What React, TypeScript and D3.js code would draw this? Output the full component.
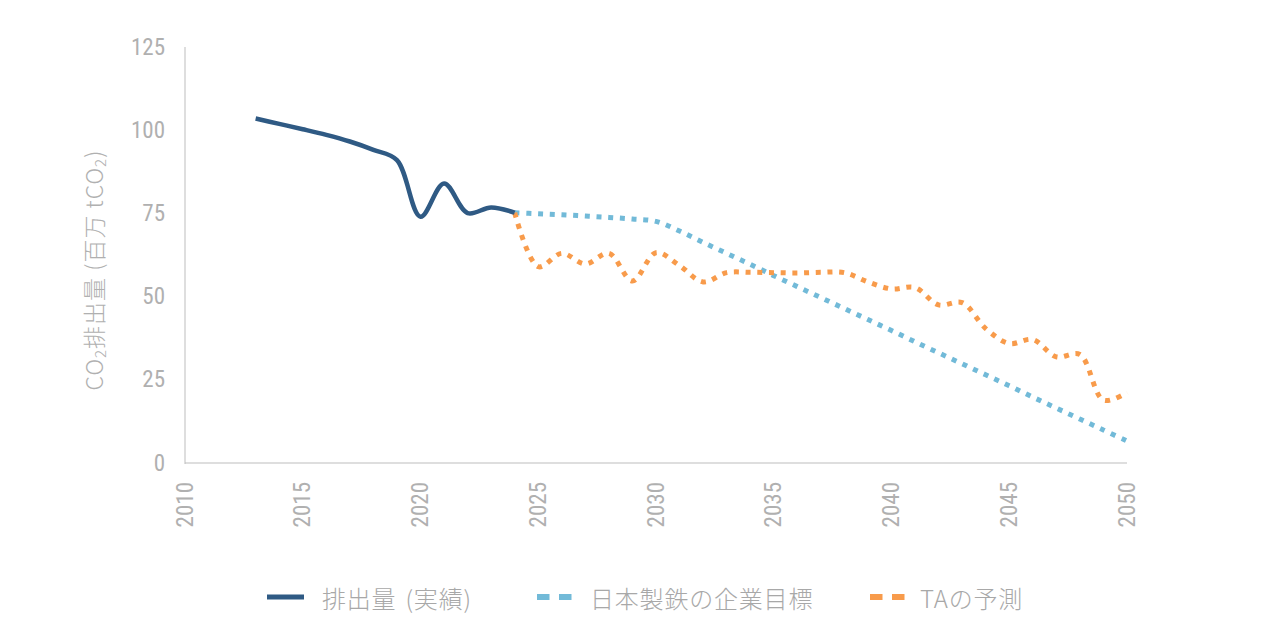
import React from 'react';
import * as d3 from 'd3';

// 実績 (2013-2024), 目標 / 予測 (2024-2050)
const actualYears = [2013, 2014, 2015, 2016, 2017, 2018, 2019, 2020, 2021, 2022, 2023, 2024];
const actualValues = [103.5, 101.9, 100.3, 98.6, 96.6, 94.1, 91.0, 74.0, 84.0, 75.1, 76.8, 75.2];

const forecastYears = d3.range(2024, 2051);
const targetValues = [
    75.2, 74.9, 74.6, 74.2, 73.8, 73.3, 72.6, 69.7, 66.3, 63.0,
    59.7, 56.3, 53.0, 49.7, 46.4, 43.1, 39.8, 36.4, 33.1, 29.8,
    26.5, 23.2, 19.8, 16.5, 13.2, 9.9, 6.6,
];
const taValues = [
    75.2, 59.0, 63.0, 59.8, 63.0, 54.7, 63.2, 59.3, 54.4, 57.2,
    57.3, 57.2, 57.1, 57.3, 57.2, 54.4, 52.3, 52.7, 47.5, 48.2,
    40.4, 35.9, 37.1, 31.9, 32.6, 18.9, 21.2,
];

const xTicks = d3.range(2010, 2051, 5);
const yTicks = [0, 25, 50, 75, 100, 125];

const legendItems = [
    { label: '排出量 (実績)', color: '#2f5a84', dashed: false },
    { label: '日本製鉄の企業目標', color: '#72bad8', dashed: true },
    { label: 'TAの予測', color: '#f89b4b', dashed: true },
];

const W = 1261;
const H = 630;
const plot = { left: 185, right: 1127, top: 47, bottom: 463 };
const grey = '#a8a8a8';
const tickGrey = '#b0b0b0';
const numFont = "'Liberation Sans Narrow', 'Roboto Condensed', Roboto, sans-serif";
const jpFont = "'Liberation Sans Narrow', 'Noto Sans CJK JP', sans-serif";

export default function App() {
    const x = d3.scaleLinear().domain([2010, 2050]).range([plot.left, plot.right]);
    const y = d3.scaleLinear().domain([0, 125]).range([plot.bottom, plot.top]);

    const line = d3.line<[number, number]>()
        .x(d => x(d[0]))
        .y(d => y(d[1]))
        .curve(d3.curveCatmullRom.alpha(0.5));

    const actualPath = line(actualYears.map((yr, i) => [yr, actualValues[i]]));
    const targetPath = line(forecastYears.map((yr, i) => [yr, targetValues[i]]));
    const taPath = line(forecastYears.map((yr, i) => [yr, taValues[i]]));

    // legend sample boxes start at these x positions
    const legendX = [267, 537, 870];
    const legendTextX = [322, 590, 920];
    const legendY = 597;

    return (
        <div style={{ position: 'absolute', left: 0, top: 0 }}>
            <svg width={W} height={H} style={{ display: 'block', background: '#fff' }}>
                {/* axes */}
                <line x1={plot.left} x2={plot.left} y1={plot.top} y2={plot.bottom + 1} stroke="#bdbdbd" strokeWidth={1} />
                <line x1={plot.left} x2={plot.right} y1={plot.bottom} y2={plot.bottom} stroke="#bdbdbd" strokeWidth={1} />

                {yTicks.map(t => (
                    <text key={t} x={165} y={y(t)} textAnchor="end" dominantBaseline="central"
                        fontFamily={numFont} fontSize={23} fill={tickGrey}>{t}</text>
                ))}

                {xTicks.map(t => (
                    <text key={t} transform={`translate(${x(t)},482) rotate(-90)`} textAnchor="end"
                        dominantBaseline="central" fontFamily={numFont} fontSize={23} fill={tickGrey}>{t}</text>
                ))}

                <text transform="translate(93,270) rotate(-90)" textAnchor="middle" dominantBaseline="central"
                    fontFamily={jpFont} fontSize={23} fill={tickGrey} fontWeight={300} letterSpacing={1}>
                    CO<tspan fontSize={15} dy={6}>2</tspan>
                    <tspan dy={-6}>排出量 (百万 tCO</tspan>
                    <tspan fontSize={15} dy={6}>2</tspan>
                    <tspan dy={-6}>)</tspan>
                </text>

                {/* series */}
                <path d={targetPath ?? ''} fill="none" stroke={legendItems[1].color} strokeWidth={5} strokeDasharray="5 6.7" />
                <path d={taPath ?? ''} fill="none" stroke={legendItems[2].color} strokeWidth={5} strokeDasharray="5 6.7" />
                <path d={actualPath ?? ''} fill="none" stroke={legendItems[0].color} strokeWidth={4.5} strokeLinecap="butt" />

                {/* legend */}
                {legendItems.map((item, i) => (
                    <g key={item.label}>
                        {item.dashed ? (
                            <>
                                <rect x={legendX[i]} y={legendY - 3} width={12.5} height={6} fill={item.color} />
                                <rect x={legendX[i] + 22} y={legendY - 3} width={12.5} height={6} fill={item.color} />
                            </>
                        ) : (
                            <rect x={legendX[i]} y={legendY - 2.5} width={37} height={5} fill={item.color} />
                        )}
                        <text x={legendTextX[i]} y={legendY} dominantBaseline="central"
                            fontFamily={jpFont} fontSize={24} fill={grey} fontWeight={300}
                            letterSpacing={0.8} wordSpacing={3}>{item.label}</text>
                    </g>
                ))}
            </svg>
        </div>
    );
}
